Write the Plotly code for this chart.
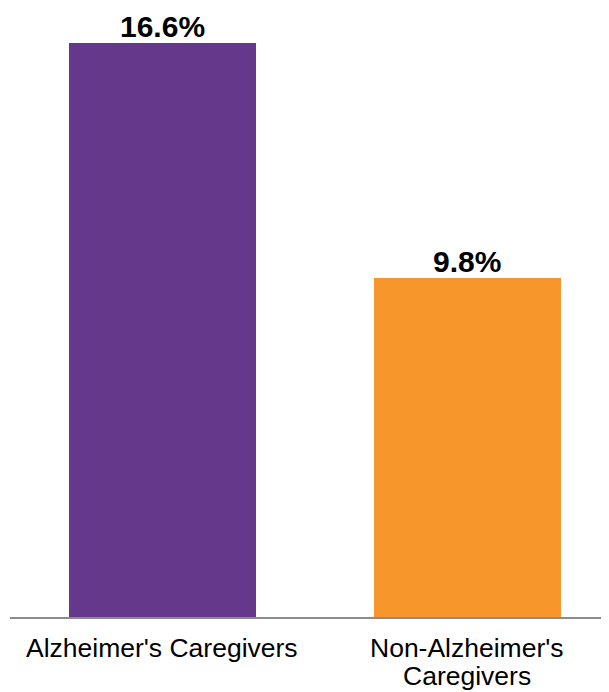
import plotly.graph_objects as go

categories = ["Alzheimer's Caregivers", "Non-Alzheimer's Caregivers"]
category_lines = [["Alzheimer's Caregivers"], ["Non-Alzheimer's", "Caregivers"]]
values = [16.6, 9.8]
labels = ["16.6%", "9.8%"]
colors = ["#65388b", "#f7972b"]

xpos = list(range(len(categories)))

fig = go.Figure(go.Bar(
    x=xpos,
    y=values,
    width=0.616,
    marker=dict(color=colors, line=dict(width=0)),
    cliponaxis=False,
))

for i, lab in enumerate(labels):
    fig.add_annotation(
        x=xpos[i], y=values[i], xref="x", yref="y",
        text="<b>" + lab + "</b>", showarrow=False,
        xanchor="center", yanchor="bottom", yshift=-2,
        font=dict(family="Liberation Sans, Arial", size=30, color="#000000"),
    )

for i, lines in enumerate(category_lines):
    for j, line in enumerate(lines):
        fig.add_annotation(
            x=xpos[i], y=0, xref="x", yref="paper",
            text=line, showarrow=False,
            xanchor="center", yanchor="top",
            yshift=-14 - 28 * j,
            font=dict(family="Liberation Sans, Arial", size=26.5, color="#000000"),
        )

fig.update_layout(
    width=609, height=692,
    margin=dict(l=2, r=8, t=2, b=83),
    paper_bgcolor="white", plot_bgcolor="white",
    showlegend=False,
    font=dict(family="Liberation Sans, Arial", color="#000000"),
    bargap=0,
)
fig.update_xaxes(
    range=[-0.5, 1.464],
    showticklabels=False,
    showline=True, linecolor="#8c8c8c", linewidth=2,
    showgrid=False, zeroline=False, ticks="",
)
fig.update_yaxes(
    range=[0, 17.55], visible=False, showgrid=False, zeroline=False,
)

fig.write_html("out.html")
